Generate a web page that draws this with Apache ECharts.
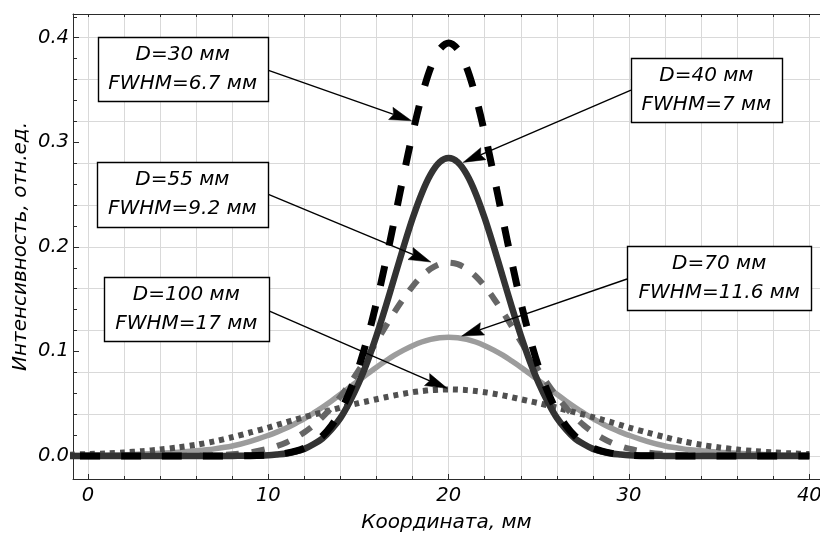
<!DOCTYPE html>
<html>
<head>
<meta charset="utf-8">
<script src="https://cdn.jsdelivr.net/npm/echarts@6/dist/echarts.min.js"></script>
<style>
  html, body { margin: 0; padding: 0; background: #fff; }
  #chart { width: 820px; height: 533px; }
</style>
</head>
<body>
<div id="chart"></div>
<script>
// Coordinate along the profile, mm (finer steps across the central part)
const xValues = [-1,0,1,2,3,4,5,6,7,8,9,10,
  10.5,11,11.5,12,12.5,13,13.5,14,14.5,15,15.5,16,16.5,17,17.5,18,18.5,19,19.5,20,
  20.5,21,21.5,22,22.5,23,23.5,24,24.5,25,25.5,26,26.5,27,27.5,28,28.5,29,29.5,
  30,31,32,33,34,35,36,37,38,39,40];

// Intensity profiles, arb. units, one per aperture D
const intensityD30 = [0,0,0,0,0,0,0,0,0,0.0001,0.0002,0.0008,
  0.0015,0.0027,0.0046,0.0076,0.0122,0.0192,0.0291,0.0428,0.0610,0.0843,0.1131,0.1470,0.1854,0.2266,0.2685,0.3085,0.3437,0.3713,0.3889,0.3950,
  0.3889,0.3713,0.3437,0.3085,0.2685,0.2266,0.1854,0.1470,0.1131,0.0843,0.0610,0.0428,0.0291,0.0192,0.0122,0.0076,0.0046,0.0027,0.0015,
  0.0008,0.0002,0.0001,0,0,0,0,0,0,0,0];
const intensityD40 = [0,0,0,0,0,0,0,0,0,0.0001,0.0002,0.0008,
  0.0015,0.0024,0.0043,0.0068,0.0112,0.0168,0.0255,0.0365,0.0515,0.0693,0.0906,0.1153,0.1425,0.1713,0.2001,0.2273,0.2509,0.2693,0.2810,0.2850,
  0.2810,0.2693,0.2509,0.2273,0.2001,0.1713,0.1425,0.1153,0.0906,0.0693,0.0515,0.0365,0.0255,0.0168,0.0112,0.0068,0.0043,0.0024,0.0015,
  0.0008,0.0002,0.0001,0,0,0,0,0,0,0,0];
const intensityD55 = [0,0,0,0,0,0,0.0001,0.0003,0.0007,0.0017,0.0035,0.0070,
  0.0096,0.0130,0.0174,0.0227,0.0293,0.0372,0.0464,0.0569,0.0687,0.0816,0.0953,0.1095,0.1239,0.1378,0.1507,0.1623,0.1719,0.1790,0.1835,0.1850,
  0.1835,0.1790,0.1719,0.1623,0.1507,0.1378,0.1239,0.1095,0.0953,0.0816,0.0687,0.0569,0.0464,0.0372,0.0293,0.0227,0.0174,0.0130,0.0096,
  0.0070,0.0035,0.0017,0.0007,0.0003,0.0001,0,0,0,0,0];
const intensityD70 = [0.0004,0.0006,0.0009,0.0013,0.0018,0.0026,0.0036,0.0050,0.0068,0.0095,0.0140,0.0198,
  0.0231,0.0268,0.0311,0.0357,0.0410,0.0466,0.0526,0.0590,0.0655,0.0721,0.0785,0.0849,0.0908,0.0964,0.1013,0.1055,0.1090,0.1115,0.1130,0.1135,
  0.1130,0.1115,0.1090,0.1055,0.1013,0.0964,0.0908,0.0849,0.0785,0.0721,0.0655,0.0590,0.0526,0.0466,0.0410,0.0357,0.0311,0.0268,0.0231,
  0.0198,0.0140,0.0095,0.0068,0.0050,0.0036,0.0026,0.0018,0.0013,0.0009,0.0006];
const intensityD100 = [0.0013,0.0018,0.0025,0.0034,0.0046,0.0062,0.0082,0.0107,0.0140,0.0180,0.0225,0.0272,
  0.0298,0.0323,0.0348,0.0372,0.0395,0.0418,0.0440,0.0462,0.0484,0.0505,0.0524,0.0543,0.0562,0.0580,0.0596,0.0610,0.0621,0.0630,0.0635,0.0637,
  0.0635,0.0630,0.0621,0.0610,0.0596,0.0580,0.0562,0.0543,0.0524,0.0505,0.0484,0.0462,0.0440,0.0418,0.0395,0.0372,0.0348,0.0323,0.0298,
  0.0272,0.0225,0.0180,0.0140,0.0107,0.0082,0.0062,0.0046,0.0034,0.0025,0.0018];

// Callout texts
const apertureLabels = ['D=30 мм', 'D=40 мм', 'D=55 мм', 'D=70 мм', 'D=100 мм'];
const fwhmLabels = ['FWHM=6.7 мм', 'FWHM=7 мм', 'FWHM=9.2 мм', 'FWHM=11.6 мм', 'FWHM=17 мм'];

// Axis ticks and labels
const xMajorTicks = [0, 10, 20, 30, 40];
const xMinorTicks = [0,2,4,6,8,10,12,14,16,18,20,22,24,26,28,30,32,34,36,38,40];
const yMajorTicks = [0, 0.1, 0.2, 0.3, 0.4];
const yMinorTicks = [0,0.02,0.04,0.06,0.08,0.1,0.12,0.14,0.16,0.18,0.2,0.22,0.24,0.26,0.28,0.3,0.32,0.34,0.36,0.38,0.4,0.42];
const yGridValues = [0,0.04,0.08,0.12,0.16,0.2,0.24,0.28,0.32,0.36,0.4];

const xTitle = 'Координата, мм';
const yTitle = 'Интенсивность, отн.ед.';

// ---- drawing ----
const X_MIN = -0.832, X_MAX = 40.59;
const Y_MIN = -0.022, Y_MAX = 0.4227;
const FONT_FAMILY = '"DejaVu Sans", sans-serif';
const frameColor = '#2b2b2b';
const gridColor = '#d9d9d9';

const chart = echarts.init(document.getElementById('chart'), null, { renderer: 'canvas' });

const tickFont = { fontFamily: FONT_FAMILY, fontStyle: 'italic', fontSize: 19.5, color: '#000' };
const titleFont = { fontFamily: FONT_FAMILY, fontStyle: 'italic', fontSize: 20, color: '#000' };

function profile(name, values, lineStyle, z) {
  return {
    type: 'line', name, z,
    xAxisIndex: 0, yAxisIndex: 0,
    data: xValues.map((x, i) => [x, values[i]]),
    symbol: 'none', showSymbol: false,
    smooth: 0.3, clip: true, silent: true,
    lineStyle: Object.assign({ cap: 'butt', join: 'round' }, lineStyle)
  };
}

function xAxisBase(extra) {
  return Object.assign({
    type: 'value', gridIndex: 0, min: X_MIN, max: X_MAX,
    axisLine: { show: false, onZero: false },
    axisTick: { show: false },
    axisLabel: { show: false },
    splitLine: { show: false },
    axisPointer: { show: false }
  }, extra);
}
function yAxisBase(extra) {
  return Object.assign({
    type: 'value', gridIndex: 0, position: 'left', min: Y_MIN, max: Y_MAX,
    axisLine: { show: false, onZero: false },
    axisTick: { show: false },
    axisLabel: { show: false },
    splitLine: { show: false },
    axisPointer: { show: false }
  }, extra);
}

chart.setOption({
  animation: false,
  backgroundColor: '#fff',
  grid: { left: 73, top: 14, right: 0, bottom: 54, containLabel: false, outerBoundsMode: 'none' },
  xAxis: [
    xAxisBase({
      position: 'bottom',
      axisLine: { show: true, onZero: false, lineStyle: { color: frameColor, width: 1 } },
      axisTick: { show: true, inside: true, length: 5, customValues: xMajorTicks, lineStyle: { color: frameColor, width: 1 } },
      axisLabel: Object.assign({ show: true, customValues: xMajorTicks, margin: 7, formatter: v => String(v) }, tickFont),
      name: xTitle, nameLocation: 'middle', nameGap: 34, nameMoveOverlap: false,
      nameTextStyle: titleFont
    }),
    xAxisBase({
      position: 'bottom',
      axisTick: { show: true, inside: true, length: 3, customValues: xMinorTicks, lineStyle: { color: frameColor, width: 1 } },
      splitLine: { show: true, lineStyle: { color: gridColor, width: 1 } }
    }),
    xAxisBase({
      position: 'top',
      axisLine: { show: true, onZero: false, lineStyle: { color: frameColor, width: 1 } },
      axisTick: { show: true, inside: true, length: 3, customValues: xMinorTicks, lineStyle: { color: frameColor, width: 1 } }
    })
  ],
  yAxis: [
    yAxisBase({
      axisLine: { show: true, onZero: false, lineStyle: { color: frameColor, width: 1 } },
      axisTick: { show: true, inside: true, length: 6, customValues: yMajorTicks, lineStyle: { color: frameColor, width: 1 } },
      axisLabel: Object.assign({ show: true, customValues: yMajorTicks, margin: 4, formatter: v => v.toFixed(1) }, tickFont),
      name: yTitle, nameLocation: 'middle', nameGap: 42, nameMoveOverlap: false,
      nameTextStyle: titleFont
    }),
    yAxisBase({
      axisTick: { show: true, inside: true, length: 4, customValues: yMinorTicks, lineStyle: { color: frameColor, width: 1 } }
    }),
    yAxisBase({
      axisTick: { show: false, customValues: yGridValues },
      splitLine: { show: true, lineStyle: { color: gridColor, width: 1 } }
    })
  ],
  series: [
    profile('D=70', intensityD70, { color: '#9c9c9c', width: 5.5, type: 'solid' }, 2),
    profile('D=100', intensityD100, { color: '#505050', width: 6, type: [5, 5] }, 3),
    profile('D=55', intensityD55, { color: '#666666', width: 6, type: [13, 13] }, 4),
    profile('D=40', intensityD40, { color: '#333333', width: 6.5, type: 'solid' }, 5),
    profile('D=30', intensityD30, { color: '#000000', width: 7, type: [20, 21], dashOffset: -10 }, 6)
  ]
});

// Callout boxes with arrows; anchors in data units, box sizes in pixels
const callouts = [
  { center: [5.25, 0.370], size: [170, 64], from: [9.97, 0.369], to: [17.94, 0.3206] },
  { center: [34.29, 0.350], size: [151, 64], from: [30.11, 0.350], to: [20.80, 0.2808] },
  { center: [5.23, 0.250], size: [171, 65], from: [9.97, 0.2505], to: [19.01, 0.1855] },
  { center: [35.00, 0.1702], size: [184, 64], from: [29.89, 0.1693], to: [20.72, 0.1147] },
  { center: [5.45, 0.1405], size: [165, 64], from: [10.03, 0.1387], to: [19.92, 0.0647] }
];

const toPx = p => chart.convertToPixel({ xAxisIndex: 0, yAxisIndex: 0 }, p);
const graphics = [];
const calloutFont = 'italic 20px ' + FONT_FAMILY;

callouts.forEach((c, i) => {
  const p0 = toPx(c.from), p1 = toPx(c.to);
  const dx = p1[0] - p0[0], dy = p1[1] - p0[1];
  const len = Math.hypot(dx, dy), ux = dx / len, uy = dy / len, nx = -uy, ny = ux;
  const headLen = 22, headHalf = 6.5, notch = 3;
  const bx = p1[0] - ux * headLen, by = p1[1] - uy * headLen;
  graphics.push({
    type: 'line', z: 100,
    shape: { x1: p0[0], y1: p0[1], x2: bx + ux * notch, y2: by + uy * notch },
    style: { stroke: '#000', lineWidth: 1.4 }
  });
  graphics.push({
    type: 'polygon', z: 100,
    shape: { points: [[p1[0], p1[1]], [bx + nx * headHalf, by + ny * headHalf], [bx + ux * notch, by + uy * notch], [bx - nx * headHalf, by - ny * headHalf]] },
    style: { fill: '#000', stroke: '#000', lineWidth: 0.5 }
  });
  const cp = toPx(c.center);
  const left = Math.round(cp[0] - c.size[0] / 2) + 0.5;
  const top = Math.round(cp[1] - c.size[1] / 2) + 0.5;
  graphics.push({
    type: 'rect', z: 101,
    shape: { x: left, y: top, width: c.size[0], height: c.size[1] },
    style: { fill: '#fff', stroke: '#000', lineWidth: 1.4 }
  });
  graphics.push({
    type: 'text', z: 102, x: cp[0], y: top + 17,
    style: { text: apertureLabels[i], font: calloutFont, fill: '#000', align: 'center', verticalAlign: 'middle' }
  });
  graphics.push({
    type: 'text', z: 102, x: cp[0], y: top + 46,
    style: { text: fwhmLabels[i], font: calloutFont, fill: '#000', align: 'center', verticalAlign: 'middle' }
  });
});

chart.setOption({ graphic: { elements: graphics } });
</script>
</body>
</html>
